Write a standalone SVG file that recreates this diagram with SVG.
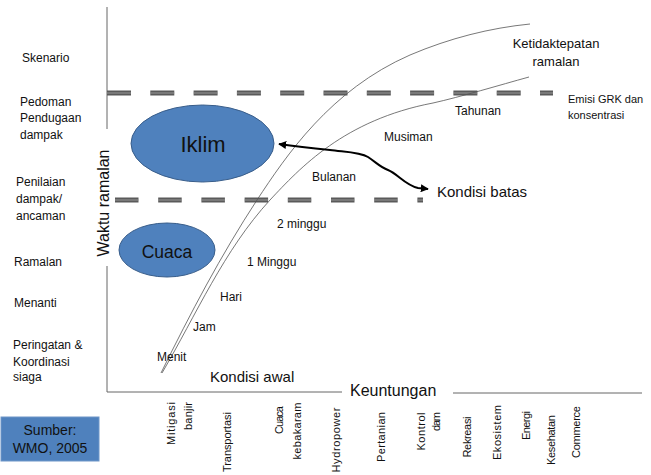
<svg xmlns="http://www.w3.org/2000/svg" width="651" height="475" viewBox="0 0 651 475">
<style>
  text { font-family: "Liberation Sans", Arial, sans-serif; fill: #111; }
  .lbl { font-size: 12px; }
  .sm { font-size: 11px; }
  .big { font-size: 15px; }
  .bot { font-size: 11px; text-anchor: middle; }
  .axis { stroke: #666; stroke-width: 1; fill: none; }
  .curve { stroke: #555; stroke-width: 0.8; fill: none; }
  .dashA { stroke: #5a5a5a; stroke-width: 5; fill: none; }
  .dashB { stroke: #a8a8a8; stroke-width: 0.8; fill: none; }
  .ell { fill: #4F81BD; stroke: #385D8A; stroke-width: 1; }
</style>
<defs>
  <marker id="ah" viewBox="0 0 10 10" refX="9" refY="5" markerWidth="8" markerHeight="8" markerUnits="userSpaceOnUse" orient="auto-start-reverse">
    <path d="M0,0 L10,5 L0,10 Z" fill="#000"/>
  </marker>
</defs>
<rect width="651" height="475" fill="#fff"/>

<g id="connectors">
  <!-- axes -->
  <line class="axis" x1="107" y1="7" x2="107" y2="129"/>
  <line class="axis" x1="107" y1="266" x2="107" y2="392"/>
  <line class="axis" x1="107" y1="392" x2="342" y2="392"/>
  <line class="axis" x1="453" y1="393" x2="642" y2="393"/>
  <!-- dashed horizontal boundaries -->
  <line class="dashA" x1="107" y1="93" x2="553" y2="93" stroke-dasharray="24 19.3"/>
  <line class="dashB" x1="107" y1="93" x2="553" y2="93" stroke-dasharray="24 19.3"/>
  <line class="dashA" x1="115" y1="200" x2="423" y2="200" stroke-dasharray="23.5 19.7"/>
  <line class="dashB" x1="115" y1="200" x2="423" y2="200" stroke-dasharray="23.5 19.7"/>
  <!-- forecast uncertainty curves -->
  <path class="curve" d="M161,373 C190,314 221,255 257,200 C286,156 330,90 410,55 C450,38 490,28 530,24"/>
  <path class="curve" d="M162,373 C196,315 224,250 270,200 C300,168 344,120 433,103 C460,97 500,85 529,77"/>
  <!-- boundary condition arrow -->
  <path d="M279,144 C300,147 320,149 330,150 C345,152 360,152 368,157 C377,163 380,167 388,170 C398,174 405,185 418,188 L428,189" fill="none" stroke="#000" stroke-width="2" marker-start="url(#ah)" marker-end="url(#ah)"/>
</g>

<g id="iklim">
  <ellipse class="ell" cx="202.5" cy="143.5" rx="71.5" ry="38.5"/>
  <text x="203" y="152" font-size="22" text-anchor="middle">Iklim</text>
</g>
<g id="cuaca">
  <ellipse class="ell" cx="167" cy="250" rx="48" ry="27"/>
  <text x="167" y="258" font-size="17.5" text-anchor="middle">Cuaca</text>
</g>

<g id="y-axis-labels">
  <text class="lbl" x="22" y="62">Skenario</text>
  <text class="lbl" x="20" y="106">Pedoman</text>
  <text class="lbl" x="20" y="122">Pendugaan</text>
  <text class="lbl" x="20" y="139">dampak</text>
  <text class="lbl" x="16" y="186">Penilaian</text>
  <text class="lbl" x="16" y="203">dampak/</text>
  <text class="lbl" x="16" y="220">ancaman</text>
  <text class="lbl" x="14" y="266">Ramalan</text>
  <text class="lbl" x="14" y="307">Menanti</text>
  <text class="lbl" x="13" y="349">Peringatan &amp;</text>
  <text class="lbl" x="13" y="366">Koordinasi</text>
  <text class="lbl" x="13" y="381">siaga</text>
  <text x="0" y="0" font-size="16" text-anchor="middle" transform="translate(109,203) rotate(-90)">Waktu ramalan</text>
</g>

<g id="curve-labels">
  <text class="lbl" x="157" y="361">Menit</text>
  <text class="lbl" x="193" y="331">Jam</text>
  <text class="lbl" x="220" y="301">Hari</text>
  <text class="lbl" x="247" y="266">1 Minggu</text>
  <text class="lbl" x="277" y="228">2 minggu</text>
  <text class="lbl" x="312" y="181">Bulanan</text>
  <text class="lbl" x="384" y="141">Musiman</text>
  <text class="lbl" x="455" y="115">Tahunan</text>
</g>

<g id="ketidaktepatan">
  <text x="556" y="48" font-size="13" text-anchor="middle">Ketidaktepatan</text>
  <text x="556" y="66" font-size="13" text-anchor="middle">ramalan</text>
</g>
<g id="emisi">
  <text class="sm" x="568" y="103">Emisi GRK dan</text>
  <text class="sm" x="568" y="119">konsentrasi</text>
</g>
<g id="kondisi-batas">
  <text class="big" x="437" y="197">Kondisi batas</text>
</g>
<g id="kondisi-awal">
  <text class="big" x="210" y="382">Kondisi awal</text>
</g>
<g id="keuntungan">
  <text x="350" y="396" font-size="16">Keuntungan</text>
</g>

<g id="sector-labels">
  <text class="bot" transform="translate(175,423.5) rotate(-90)" textLength="43" lengthAdjust="spacing">Mitigasi</text>
  <text class="bot" transform="translate(192,416) rotate(-90)" textLength="28" lengthAdjust="spacing">banjir</text>
  <text class="bot" transform="translate(231,442) rotate(-90)" textLength="60" lengthAdjust="spacing">Transportasi</text>
  <text class="bot" transform="translate(283,420) rotate(-90)" textLength="28" lengthAdjust="spacing">Cuaca</text>
  <text class="bot" transform="translate(301,431) rotate(-90)" textLength="57" lengthAdjust="spacing">kebakaram</text>
  <text class="bot" transform="translate(340,440) rotate(-90)" textLength="65" lengthAdjust="spacing">Hydropower</text>
  <text class="bot" transform="translate(385,437) rotate(-90)" textLength="50" lengthAdjust="spacing">Pertanian</text>
  <text class="bot" transform="translate(425,431.5) rotate(-90)" textLength="38" lengthAdjust="spacing">Kontrol</text>
  <text class="bot" transform="translate(440,421.5) rotate(-90)" textLength="19" lengthAdjust="spacing">dam</text>
  <text class="bot" transform="translate(471,437) rotate(-90)" textLength="41" lengthAdjust="spacing">Rekreasi</text>
  <text class="bot" transform="translate(501,432.5) rotate(-90)" textLength="55" lengthAdjust="spacing">Ekosistem</text>
  <text class="bot" transform="translate(530,425.5) rotate(-90)" textLength="29" lengthAdjust="spacing">Energi</text>
  <text class="bot" transform="translate(555,440) rotate(-90)" textLength="50" lengthAdjust="spacing">Kesehatan</text>
  <text class="bot" transform="translate(580,432) rotate(-90)" textLength="52" lengthAdjust="spacing">Commerce</text>
</g>

<g id="sumber">
  <rect x="1" y="417" width="98" height="44" fill="#4F81BD" stroke="#6e96c8" stroke-width="1"/>
  <text x="50" y="435" font-size="14" text-anchor="middle">Sumber:</text>
  <text x="50" y="453" font-size="14" text-anchor="middle">WMO, 2005</text>
</g>
</svg>
